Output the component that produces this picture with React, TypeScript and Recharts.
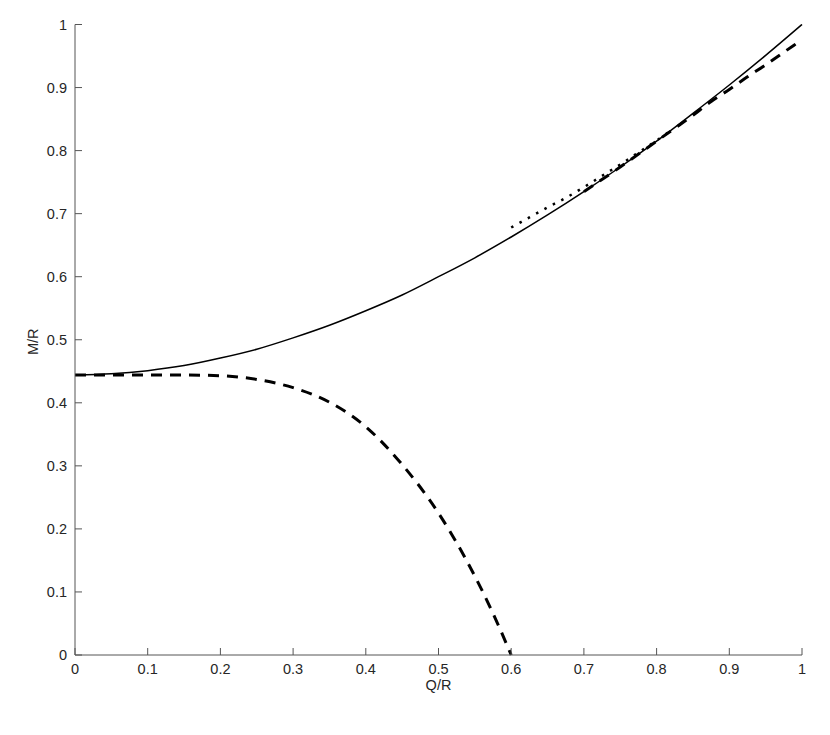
import React from 'react';
import { LineChart, Line, XAxis, YAxis, Label } from 'recharts';

// Q/R values and the matching M/R readings for each curve
const boundQ = [0, 0.05, 0.1, 0.15, 0.2, 0.25, 0.3, 0.35, 0.4, 0.45, 0.5, 0.55, 0.6, 0.65, 0.7, 0.75, 0.8, 0.85, 0.9, 0.95, 1];
const boundM = [0.444, 0.446, 0.451, 0.459, 0.471, 0.485, 0.503, 0.523, 0.546, 0.571, 0.6, 0.63, 0.663, 0.698, 0.735, 0.774, 0.815, 0.859, 0.904, 0.951, 1];

const lowerQ = [0, 0.05, 0.1, 0.15, 0.2, 0.25, 0.3, 0.35, 0.4, 0.45, 0.5, 0.55, 0.575, 0.6];
const lowerM = [0.444, 0.444, 0.444, 0.444, 0.443, 0.437, 0.424, 0.401, 0.362, 0.302, 0.225, 0.125, 0.066, 0];

const upperQ = [0.7, 0.75, 0.8, 0.85, 0.875, 0.9, 0.925, 0.95, 0.975, 1];
const upperM = [0.735, 0.774, 0.815, 0.856, 0.878, 0.897, 0.917, 0.936, 0.956, 0.976];

const dottedQ = [0.6, 0.625, 0.65, 0.675, 0.7, 0.725, 0.75, 0.775, 0.8, 0.82];
const dottedM = [0.678, 0.694, 0.71, 0.725, 0.742, 0.76, 0.778, 0.797, 0.816, 0.832];

const ticks = [0, 0.1, 0.2, 0.3, 0.4, 0.5, 0.6, 0.7, 0.8, 0.9, 1];

const toPoints = (qs: number[], ms: number[]) => qs.map((q, i) => ({ x: q, y: ms[i] }));

const boundData = toPoints(boundQ, boundM);
const lowerData = toPoints(lowerQ, lowerM);
const upperData = toPoints(upperQ, upperM);
const dottedData = toPoints(dottedQ, dottedM);

const AXIS = '#555555';
const TEXT = '#262626';
const FONT = '"Liberation Sans", Arial, Helvetica, sans-serif';
const FS = 14.5;

const fmt = (v: number) => String(Number(v.toFixed(2)));

// ticks point into the plot, like the original
const XTick = (props: any) => {
    const { x, y, payload } = props;
    return (
        <g>
            <line x1={x} y1={y} x2={x} y2={y - 7} stroke={AXIS} strokeWidth={1} />
            <text x={x} y={y + 19} textAnchor="middle" fill={TEXT} fontSize={FS} fontFamily={FONT}>
                {fmt(payload.value)}
            </text>
        </g>
    );
};

const YTick = (props: any) => {
    const { x, y, payload } = props;
    return (
        <g>
            <line x1={x} y1={y} x2={x + 7} y2={y} stroke={AXIS} strokeWidth={1} />
            <text x={x - 8} y={y} dy="0.36em" textAnchor="end" fill={TEXT} fontSize={FS} fontFamily={FONT}>
                {fmt(payload.value)}
            </text>
        </g>
    );
};

const XLabel = (props: any) => {
    const vb = props.viewBox || { x: 67, y: 647, width: 727, height: 72 };
    return (
        <text
            x={vb.x + vb.width / 2}
            y={vb.y + 35}
            textAnchor="middle"
            fill={TEXT}
            fontSize={FS}
            fontFamily={FONT}
        >
            Q/R
        </text>
    );
};

const YLabel = (props: any) => {
    const vb = props.viewBox || { x: 0, y: 0, width: 67, height: 630 };
    const cx = vb.x + 25;
    const cy = vb.y + vb.height / 2 + 2;
    return (
        <text
            x={cx}
            y={cy}
            transform={`rotate(-90, ${cx}, ${cy})`}
            textAnchor="middle"
            dy="0.36em"
            fill={TEXT}
            fontSize={FS}
            fontFamily={FONT}
        >
            M/R
        </text>
    );
};

const App: React.FC = () => {
    return (
        <div style={{ width: 814, height: 719, fontFamily: FONT }}>
            <LineChart width={814} height={719} margin={{ top: 16.5, right: 20, bottom: 0, left: 0 }}>
                <XAxis
                    type="number"
                    dataKey="x"
                    domain={[0, 1]}
                    ticks={ticks}
                    height={72}
                    tickSize={0}
                    tickMargin={0}
                    tickLine={false}
                    tick={<XTick />}
                    axisLine={{ stroke: AXIS, strokeWidth: 1 }}
                    allowDuplicatedCategory={false}
                >
                    <Label content={<XLabel />} />
                </XAxis>
                <YAxis
                    type="number"
                    dataKey="y"
                    domain={[0, 1]}
                    ticks={ticks}
                    width={67}
                    tickSize={0}
                    tickMargin={0}
                    tickLine={false}
                    tick={<YTick />}
                    axisLine={{ stroke: AXIS, strokeWidth: 1 }}
                >
                    <Label content={<YLabel />} />
                </YAxis>
                <Line
                    data={boundData}
                    dataKey="y"
                    type="monotone"
                    stroke="#000"
                    strokeWidth={1.5}
                    dot={false}
                    activeDot={false}
                    isAnimationActive={false}
                />
                <Line
                    data={dottedData}
                    dataKey="y"
                    type="monotone"
                    stroke="#000"
                    strokeWidth={2.5}
                    strokeDasharray="2.5 7"
                    dot={false}
                    activeDot={false}
                    isAnimationActive={false}
                />
                <Line
                    data={upperData}
                    dataKey="y"
                    type="monotone"
                    stroke="#000"
                    strokeWidth={3}
                    strokeDasharray="11 8"
                    dot={false}
                    activeDot={false}
                    isAnimationActive={false}
                />
                <Line
                    data={lowerData}
                    dataKey="y"
                    type="monotone"
                    stroke="#000"
                    strokeWidth={3}
                    strokeDasharray="11 8"
                    dot={false}
                    activeDot={false}
                    isAnimationActive={false}
                />
            </LineChart>
        </div>
    );
};

export default App;
